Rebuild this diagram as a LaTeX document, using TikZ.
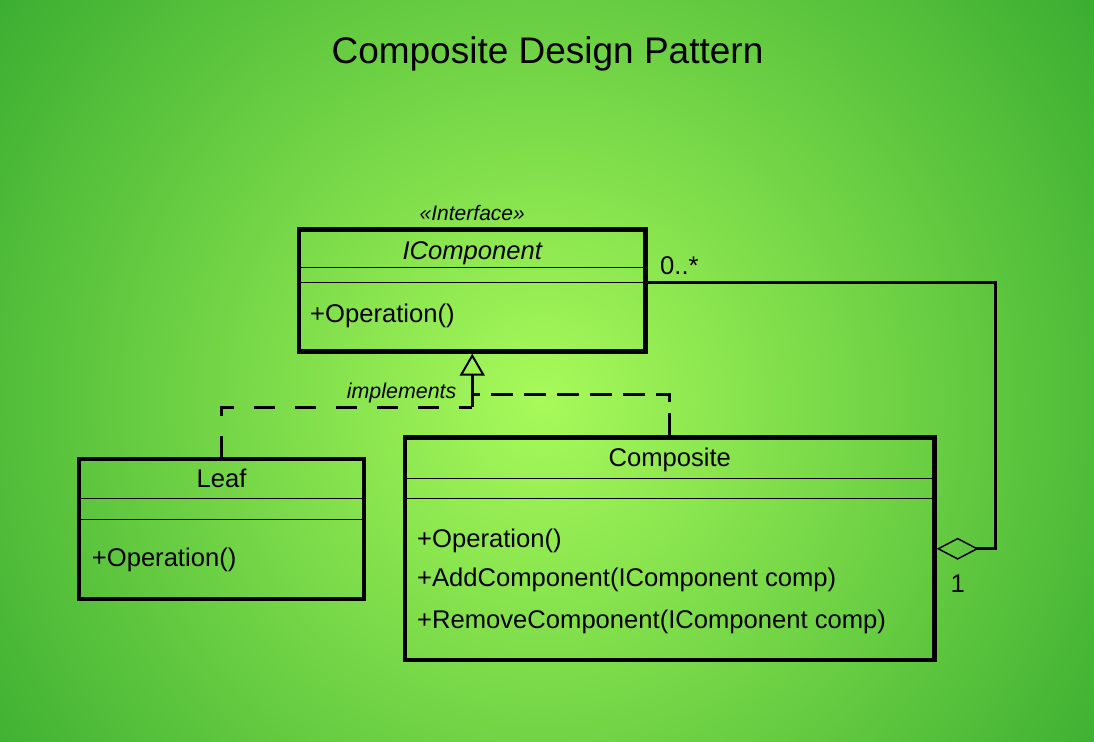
\documentclass[tikz,border=0pt]{standalone}
\usepackage{fontspec}
\setmainfont{Liberation Sans}
\usetikzlibrary{arrows.meta}
\definecolor{bgin}{HTML}{A8FA5A}
\definecolor{bgout}{HTML}{3AAD31}
\pgfdeclareradialshading{bgshade}{\pgfpoint{0bp}{0bp}}{color(0bp)=(bgin); color(680bp)=(bgout); color(700bp)=(bgout)}
\tikzset{
  classbox/.style={draw=black, line width=4.3pt, rectangle, inner sep=0pt},
  sepline/.style={draw=black, line width=1pt},
  txt/.style={inner sep=0pt, font=\fontsize{25.6}{30}\selectfont},
  itxt/.style={inner sep=0pt, font=\itshape\fontsize{25.6}{30}\selectfont},
  aggline/.style={draw=black, line width=3pt},
  realize/.style={draw=black, line width=3pt},
}
\begin{document}
\begin{tikzpicture}[x=1pt,y=-1pt]
\useasboundingbox (0,0) rectangle (1094,741);
\begin{scope}
  \clip (0,0) rectangle (1094,741);
  \node[inner sep=0pt, outer sep=0pt] (bg) at (542,400) {\pgfuseshading{bgshade}};
\end{scope}

% title
\node[inner sep=0pt, anchor=base, font=\fontsize{37}{42}\selectfont] (title) at (547.5,63.8) {Composite Design Pattern};

% IComponent
\node[classbox, minimum width=346.5pt, minimum height=122pt] (icomp) at (472.25,290.5) {};
\coordinate (ic1) at (0,267.3);
\coordinate (ic2) at (0,282.3);
\draw[sepline] (icomp.west |- ic1) -- (icomp.east |- ic1);
\draw[sepline] (icomp.west |- ic2) -- (icomp.east |- ic2);
\node[inner sep=0pt, anchor=base, font=\itshape\fontsize{21}{24}\selectfont] (stereo) at (472.25,220) {«Interface»};
\node[itxt, anchor=base] (icname) at (472.25,259.3) {IComponent};
\node[txt, anchor=base west] (icop) at (310,322.7) {+Operation()};

% Leaf
\node[classbox, minimum width=285pt, minimum height=140pt] (leaf) at (221.5,529) {};
\coordinate (lf1) at (0,498.3);
\coordinate (lf2) at (0,519);
\draw[sepline] (leaf.west |- lf1) -- (leaf.east |- lf1);
\draw[sepline] (leaf.west |- lf2) -- (leaf.east |- lf2);
\node[txt, anchor=base] (leafname) at (221.5,487.7) {Leaf};
\node[txt, anchor=base west] (leafop) at (91.7,566.7) {+Operation()};

% Composite
\node[classbox, minimum width=529.5pt, minimum height=222.5pt] (comp) at (669.75,548.75) {};
\coordinate (cp1) at (0,478.3);
\coordinate (cp2) at (0,498.3);
\draw[sepline] (comp.west |- cp1) -- (comp.east |- cp1);
\draw[sepline] (comp.west |- cp2) -- (comp.east |- cp2);
\node[txt, anchor=base] (compname) at (669.75,466.7) {Composite};
\node[txt, anchor=base west] (compop1) at (417,547.3) {+Operation()};
\node[txt, anchor=base west] (compop2) at (417,586.7) {+AddComponent(IComponent comp)};
\node[txt, anchor=base west] (compop3) at (417,628.3) {+RemoveComponent(IComponent comp)};

% aggregation
\coordinate (aggx) at (995.7,0);
\draw[aggline, -{Diamond[open, length=42pt, width=22pt, line width=1.5pt]}]
  (icomp.east |- ic2) -| (aggx |- comp.east) -- (comp.east);
\node[txt, anchor=base west] (mult0) at (660,274.3) {0..*};
\node[txt, anchor=base west] (mult1) at (950.5,592.7) {1};

% realization
\coordinate (rj1) at (472.25,407.3);
\coordinate (rj2) at (472.25,394);
\draw[realize, dash pattern=on 21pt off 20pt] (leaf.north) |- (rj1);
\draw[realize, -{Triangle[open, length=22pt, width=25pt, line width=2pt]}] (rj1) -- (icomp.south);
\draw[realize, dash pattern=on 22pt off 11pt] (comp.north) |- (rj2);
\node[inner sep=0pt, anchor=base west, font=\itshape\fontsize{21.4}{24}\selectfont] (impl) at (346.7,398.3) {implements};
\end{tikzpicture}
\end{document}
